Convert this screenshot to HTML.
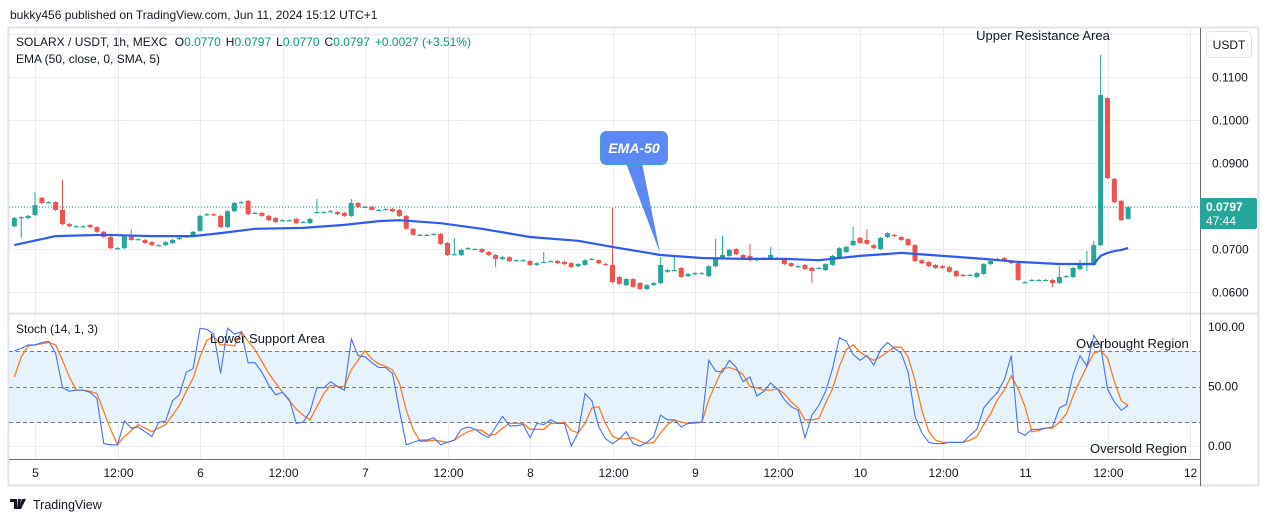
<!DOCTYPE html>
<html><head><meta charset="utf-8">
<style>
html,body{margin:0;padding:0;background:#fff;width:1265px;height:522px;overflow:hidden;font-family:"Liberation Sans",sans-serif;}
svg text{font-family:"Liberation Sans",sans-serif;}
</style></head>
<body>
<svg id="chart" width="1265" height="522" viewBox="0 0 1265 522" xmlns="http://www.w3.org/2000/svg">
  <text x="10" y="19" font-size="12" fill="#131722">bukky456 published on TradingView.com, Jun 11, 2024 15:12 UTC+1</text>
  <rect x="8.5" y="27.5" width="1250" height="458" fill="#fff" stroke="#e0e3eb" stroke-width="2"/>
  <rect x="9" y="351" width="1191" height="72" fill="#e3f2fd" opacity="0.9"/>
  <g id="grid"></g>
  <g id="stochg"></g>
  <g id="candles"></g>
  <g id="emag"></g>
  <line x1="9" y1="313.5" x2="1258" y2="313.5" stroke="#e0e3eb" stroke-width="2"/>
  <line x1="1200.5" y1="28" x2="1200.5" y2="486" stroke="#6a6d78" stroke-width="1"/>
  <line x1="9" y1="459.5" x2="1200" y2="459.5" stroke="#6a6d78" stroke-width="1"/>
  <g id="axes"></g>
  <text x="16" y="46" font-size="12" fill="#131722">SOLARX / USDT, 1h, MEXC <tspan fill="#131722" dx="4">O</tspan><tspan fill="#089981">0.0770</tspan><tspan dx="5">H</tspan><tspan fill="#089981">0.0797</tspan><tspan dx="5">L</tspan><tspan fill="#089981">0.0770</tspan><tspan dx="5">C</tspan><tspan fill="#089981">0.0797</tspan><tspan fill="#089981" dx="5">+0.0027 (+3.51%)</tspan></text>
  <text x="16" y="63" font-size="12" fill="#131722">EMA (50, close, 0, SMA, 5)</text>
  <text x="16" y="333" font-size="12" fill="#131722">Stoch (14, 1, 3)</text>
  <g>
    <rect x="1206.5" y="31.5" width="45" height="26" rx="4" fill="#fff" stroke="#e0e3eb"/>
    <text x="1229" y="49" font-size="12" text-anchor="middle" fill="#131722">USDT</text>
  </g>
  <text x="1043" y="40" font-size="13" text-anchor="middle" fill="#131722">Upper Resistance Area</text>
  <text x="210" y="343" font-size="13" fill="#131722">Lower Support Area</text>
  <text x="1076" y="348" font-size="13" fill="#131722">Overbought Region</text>
  <text x="1090" y="453" font-size="13" fill="#131722">Oversold Region</text>
  <g>
    <polygon points="626,163 642,163 660,253" fill="#5b88f5"/>
    <rect x="600.5" y="131.5" width="67" height="33" rx="6" fill="#5b88f5" stroke="#3aa6c9"/>
    <text x="634" y="153" font-size="14" font-style="italic" font-weight="bold" text-anchor="middle" fill="#fff">EMA-50</text>
  </g>
  <g>
    <rect x="1200" y="198" width="57" height="31" rx="2" fill="#26a69a"/>
    <text x="1206" y="211" font-size="12" font-weight="bold" fill="#fff">0.0797</text>
    <text x="1206" y="225" font-size="12" fill="#fff">47:44</text>
  </g>
  <g>
    <path d="M10 499h7v10h-3v-7h-4z M18 499h3l-2 10h-2z M22 499h4l-5 10h-3z" fill="#131722"/>
    <text x="33" y="509" font-size="12.5" fill="#131722">TradingView</text>
  </g>
</svg>
<script>
// ---- data ----
const opens = [.0753,.0774,.0772,.0779,.0819,.0809,.0809,.0791,.0758,.0753,.0753,.0756,.0751,.0740,.0728,.0702,.0702,.0730,.0723,.0721,.0716,.0709,.0709,.0714,.0723,.0728,.0730,.0742,.0779,.0781,.0777,.0751,.0788,.0809,.0812,.0784,.0784,.0777,.0772,.0767,.0767,.0770,.0763,.0760,.0786,.0786,.0788,.0786,.0784,.0777,.0807,.0798,.0798,.0791,.0793,.0793,.0791,.0777,.0747,.0733,.0733,.0735,.0735,.0714,.0688,.0686,.0702,.0700,.0700,.0693,.0686,.0677,.0681,.0674,.0674,.0672,.0663,.0670,.0672,.0672,.0670,.0667,.0660,.0663,.0677,.0674,.0665,.0663,.0635,.0616,.0630,.0621,.0607,.0616,.0621,.0647,.0651,.0656,.0637,.0642,.0644,.0637,.0660,.0679,.0684,.0700,.0686,.0684,.0674,.0679,.0677,.0679,.0677,.0667,.0660,.0663,.0656,.0656,.0651,.0663,.0679,.0693,.0709,.0726,.0721,.0709,.0700,.0728,.0733,.0728,.0723,.0709,.0674,.0670,.0663,.0660,.0658,.0649,.0640,.0640,.0635,.0642,.0665,.0677,.0679,.0672,.0667,.0623,.0628,.0628,.0628,.0628,.0621,.0637,.0635,.0653,.0665,.0663,.0709,.1051,.0863,.0812,.0770];
const closes = [.0772,.0774,.0777,.0802,.0807,.0809,.0791,.0758,.0753,.0753,.0753,.0751,.0740,.0728,.0702,.0702,.0730,.0721,.0723,.0714,.0709,.0709,.0716,.0721,.0726,.0730,.0740,.0777,.0781,.0779,.0751,.0788,.0807,.0809,.0781,.0784,.0777,.0767,.0763,.0767,.0767,.0760,.0763,.0770,.0786,.0786,.0788,.0781,.0777,.0807,.0798,.0798,.0791,.0791,.0793,.0788,.0777,.0747,.0733,.0733,.0733,.0735,.0712,.0686,.0688,.0698,.0702,.0700,.0693,.0686,.0677,.0681,.0672,.0674,.0674,.0663,.0667,.0670,.0672,.0667,.0665,.0658,.0665,.0674,.0677,.0667,.0663,.0623,.0619,.0630,.0612,.0607,.0616,.0621,.0663,.0651,.0651,.0635,.0642,.0644,.0644,.0660,.0679,.0686,.0698,.0688,.0677,.0674,.0679,.0679,.0686,.0679,.0665,.0660,.0660,.0653,.0649,.0656,.0665,.0684,.0702,.0705,.0719,.0714,.0712,.0702,.0726,.0737,.0730,.0721,.0709,.0672,.0667,.0660,.0656,.0656,.0647,.0637,.0637,.0640,.0644,.0665,.0672,.0677,.0672,.0667,.0628,.0623,.0628,.0628,.0628,.0621,.0635,.0637,.0656,.0663,.0665,.0709,.1058,.0865,.0809,.0767,.0797];
// notable wicks: [candle index, high, low]
const wickIdx  = [1,3,7,17,44,49,64,70,77,87,94,96,102,103,107,110,116,122,124,151,152,155,156,157,158];
const wickHigh = [null,.0830,.0858,.0744,.0814,.0814,.0723,null,.0691,.0793,.0679,.0681,.0721,.0728,.0709,.0702,null,.0749,.0744,null,.0658,.0672,.0693,.0716,.1149];
const wickLow  = [.0728,null,null,null,null,null,null,.0660,null,null,null,null,null,null,null,null,.0623,null,null,.0614,null,null,.0651,null,null];
const emaIdx = [0,6,13,20,26,30,35,42,48,53,56,62,68,75,82,87,94,100,106,112,117,123,129,135,141,146,152,157,158,159,160,161,162];
const emaVal = [.0709,.0730,.0733,.0730,.0730,.0737,.0747,.0749,.0756,.0765,.0767,.0760,.0747,.0728,.0719,.0705,.0686,.0679,.0677,.0677,.0674,.0684,.0691,.0684,.0677,.0670,.0665,.0665,.0684,.0691,.0695,.0698,.0702];
const stochK = [80,82,85,85,87,88,78,49,46,47,47,45,40,2,1,1,21,15,16,12,8,20,21,38,43,62,65,99,98,94,61,99,94,96,70,70,62,51,43,45,39,19,20,29,49,49,54,50,47,90,76,75,70,66,66,61,30,1,3,5,5,7,1,3,5,14,16,14,10,7,16,25,17,17,18,7,19,18,22,19,19,0,11,44,38,16,6,2,6,12,2,
 0,3,8,26,22,22,16,19,20,20,72,63,62,72,66,54,58,42,46,53,48,39,33,30,7,26,34,46,65,91,88,77,72,76,68,81,87,82,78,62,25,11,3,2,2,3,3,3,9,14,32,39,45,56,76,12,9,14,14,15,16,32,35,60,76,67,93,84,48,37,30,34];
const stochD = [58,75,84,85,86,87,85,72,58,47,47,46,44,29,14,1,8,13,18,15,12,15,18,26,34,46,57,75,89,92,85,85,84,96,88,81,71,61,53,45,38,31,26,22,33,44,51,50,50,64,72,80,73,69,67,64,53,30,14,4,4,5,4,3,5,9,12,14,13,9,10,15,19,19,19,14,14,14,19,19,20,13,11,19,32,33,19,8,6,6,7,
 4,2,3,11,18,22,20,19,19,20,39,52,65,66,64,60,50,49,47,47,48,44,37,32,22,22,23,36,48,67,81,85,79,75,72,75,79,83,83,75,55,30,12,5,3,3,3,3,5,8,18,27,39,47,59,48,33,12,13,15,15,20,27,42,55,67,78,80,74,54,38,34];
const priceTicks = [0.06,0.07,0.08,0.09,0.10,0.11,0.12];
const priceLabels = ["0.0600","0.0700","","0.0900","0.1000","0.1100",""];
const stochTicks = [0,50,100];
const stochTickLabels = ["0.00","50.00","100.00"];
const stochLevels = [20,50,80];
const timeHours = [0,12,24,36,48,60,72,84,96,108,120,132,144,156,168];
const timeLabels = ["5","12:00","6","12:00","7","12:00","8","12:00","9","12:00","10","12:00","11","12:00","12"];
const lastPrice = 0.0797;

// ---- scales ----
const firstHour = -3;
const xH = h => 35 + h * 6.875;
const xI = i => xH(i + firstHour);
const yP = p => 292 - (p - 0.06) * 4300;
const yS = v => 446 - v * 1.19;

const NS = "http://www.w3.org/2000/svg";
function mk(tag, attrs, parent) {
  const e = document.createElementNS(NS, tag);
  for (const k in attrs) e.setAttribute(k, attrs[k]);
  parent.appendChild(e);
  return e;
}
const grid = document.getElementById('grid');
const axes = document.getElementById('axes');
const cg = document.getElementById('candles');
const eg = document.getElementById('emag');
const sg = document.getElementById('stochg');

// grid + price axis
priceTicks.forEach((p, k) => {
  const y = Math.round(yP(p)) + 0.5;
  const l = mk('line', {x1: 9, x2: 1200, y1: y, y2: y, stroke: '#e9edf3', 'stroke-width': 1}, grid);
  
  
  if (priceLabels[k]) {
    const t = mk('text', {x: 1212, y: y + 4, 'font-size': 12, fill: '#131722'}, axes);
    t.textContent = priceLabels[k];
    
    
  }
});
timeHours.forEach((h, k) => {
  const x = Math.round(xH(h)) + 0.5;
  if (x < 1200) {
    const l = mk('line', {x1: x, x2: x, y1: 28, y2: 459, stroke: '#e9edf3', 'stroke-width': 1}, grid);
    
    
  }
  const t = mk('text', {x: x, y: 477, 'font-size': 12, fill: '#131722', 'text-anchor': 'middle'}, axes);
  t.textContent = timeLabels[k];
  
  
});
// stoch levels and ticks
stochLevels.forEach(v => {
  const y = Math.round(yS(v)) + 0.5;
  const l = mk('line', {x1: 9, x2: 1200, y1: y, y2: y, stroke: '#787b86', 'stroke-dasharray': '4,3', 'stroke-width': 1}, sg);
  
  
});
stochTicks.forEach((v, k) => {
  const y = yS(v);
  if (v === 0) {
    const l = mk('line', {x1: 9, x2: 1200, y1: Math.round(y) + 0.5, y2: Math.round(y) + 0.5, stroke: '#e9edf3'}, grid);
    
    
  }
  const t = mk('text', {x: 1208, y: y + 4, 'font-size': 12, fill: '#131722'}, axes);
  t.textContent = stochTickLabels[k];
  
  
});
// last price line
const lp = mk('line', {x1: 9, x2: 1200, y1: yP(lastPrice), y2: yP(lastPrice), stroke: '#26a69a', 'stroke-dasharray': '1,2', 'stroke-width': 1}, grid);



// candles
opens.forEach((o, i) => {
  const c = closes[i];
  let hi = Math.max(o, c), lo = Math.min(o, c);
  const w = wickIdx.indexOf(i);
  if (w >= 0) {
    if (wickHigh[w] != null) hi = wickHigh[w];
    if (wickLow[w] != null) lo = wickLow[w];
  }
  const col = c >= o ? '#26a69a' : '#ef5350';
  const x = xI(i);
  const g = mk('g', {}, cg);
  
  
  mk('line', {x1: x, x2: x, y1: yP(hi) - 1, y2: yP(lo) + 1, stroke: col, 'stroke-width': 1}, g);
  const top = yP(Math.max(o, c)), bot = yP(Math.min(o, c));
  mk('rect', {x: x - 2.5, y: top, width: 5, height: Math.max(1.2, bot - top), fill: col}, g);
});

// EMA
const ep = emaIdx.map((i, k) => xI(i).toFixed(1) + ',' + yP(emaVal[k]).toFixed(1)).join(' ');
const eline = mk('polyline', {points: ep, fill: 'none', stroke: '#2f5bf5', 'stroke-width': 2.2, 'stroke-linejoin': 'round'}, eg);



// Stoch
const dPts = stochD.map((v, i) => xI(i).toFixed(1) + ',' + yS(v).toFixed(1)).join(' ');
const dl = mk('polyline', {points: dPts, fill: 'none', stroke: '#ff7b1c', 'stroke-width': 1.3}, sg);


const kPts = stochK.map((v, i) => xI(i).toFixed(1) + ',' + yS(v).toFixed(1)).join(' ');
const kl = mk('polyline', {points: kPts, fill: 'none', stroke: '#4472f5', 'stroke-width': 1.1}, sg);


</script>
</body></html>
